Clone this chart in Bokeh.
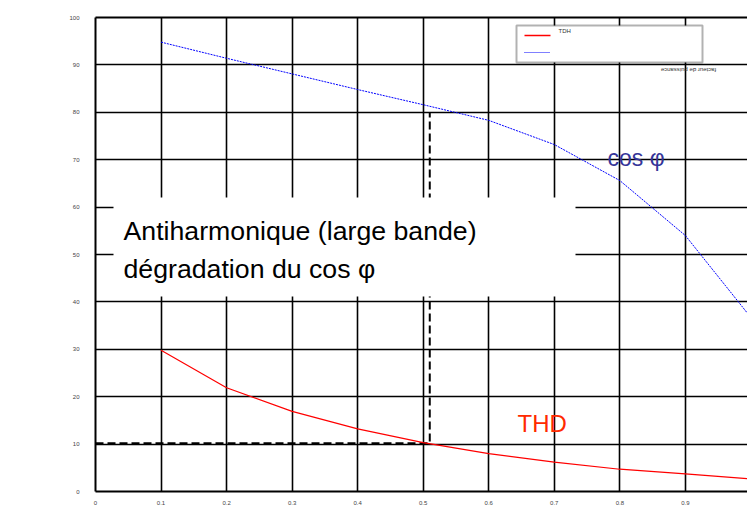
from bokeh.plotting import figure
from bokeh.models import (Range1d, FixedTicker, LinearAxis, BoxAnnotation, Label)
from bokeh.embed import file_html
from bokeh.resources import INLINE
import math

# ---- data ----
inductance = [0.1, 0.2, 0.3, 0.4, 0.5, 0.6, 0.7, 0.8, 0.9, 1.0]
cos_phi = [94.8, 91.4, 88.1, 84.8, 81.6, 78.3, 73.2, 65.6, 54.0, 36.7]
thd = [29.8, 21.9, 16.9, 13.2, 10.3, 8.0, 6.2, 4.7, 3.7, 2.65]
ref_x = [0.0, 0.51, 0.51]
ref_y = [10.2, 10.2, 80.0]
x_ticks = [0, 0.1, 0.2, 0.3, 0.4, 0.5, 0.6, 0.7, 0.8, 0.9]
x_tick_labels = ["0", "0.1", "0.2", "0.3", "0.4", "0.5", "0.6", "0.7", "0.8", "0.9"]
y_ticks = [0, 10, 20, 30, 40, 50, 60, 70, 80, 90, 100]
y_tick_labels = ["0", "10", "20", "30", "40", "50", "60", "70", "80", "90", "100"]

W, H = 747, 520
LEFT, TOP, BOTTOM = 95, 17, 29
X_END = 0.9948

p = figure(width=W, height=H, output_backend="svg", toolbar_location=None,
           x_range=Range1d(0, X_END), y_range=Range1d(0, 100),
           min_border_left=LEFT, min_border_right=0, min_border_top=TOP,
           min_border_bottom=BOTTOM, outline_line_color=None,
           background_fill_color="white", border_fill_color="white")

# pixel -> data helpers for annotation placement
fw = W - LEFT
fh = H - TOP - BOTTOM
def px(x):
    return (x - LEFT) / fw * X_END
def py(y):
    return (H - BOTTOM - y) / fh * 100.0

# axes
for ax in (p.xaxis[0], p.yaxis[0]):
    ax.axis_line_color = "black"
    ax.axis_line_width = 2
    ax.major_tick_line_color = None
    ax.minor_tick_line_color = None
    ax.major_label_text_font = "Liberation Sans"
    ax.major_label_text_font_size = "6px"
    ax.major_label_text_color = "#444444"

p.xaxis.ticker = FixedTicker(ticks=x_ticks)
p.xaxis.major_label_overrides = {t: l for t, l in zip(x_ticks, x_tick_labels)}
p.xaxis.major_label_text_align = "right"
p.xaxis.major_label_standoff = 3

p.yaxis.ticker = FixedTicker(ticks=y_ticks)
p.yaxis.major_label_overrides = {t: l for t, l in zip(y_ticks, y_tick_labels)}
p.yaxis.major_label_text_baseline = "bottom"
p.yaxis.major_label_standoff = 10

top_axis = LinearAxis(ticker=FixedTicker(ticks=[]), axis_line_color="black",
                      axis_line_width=2, major_tick_line_color=None,
                      minor_tick_line_color=None, major_label_text_font_size="0px")
p.add_layout(top_axis, "above")

# grid
p.xgrid.ticker = FixedTicker(ticks=x_ticks[1:])
p.ygrid.ticker = FixedTicker(ticks=y_ticks[1:-1])
for g in (p.xgrid[0], p.ygrid[0]):
    g.grid_line_color = "black"
    g.grid_line_width = 1.6
    g.grid_line_alpha = 1.0

# legend box (under glyphs, over grid)
leg_box = BoxAnnotation(left=px(516), right=px(702), top=py(25), bottom=py(62),
                        fill_color="white", fill_alpha=1.0, line_color="black",
                        line_width=2, level="underlay")
p.add_layout(leg_box)

# curves
p.line(ref_x, ref_y, line_color="black", line_width=2, line_dash="8 4")
p.line(inductance, thd, line_color="#ff0000", line_width=1.2)
p.line(inductance, cos_phi, line_color="#0000ff", line_width=1, line_dash="2 1")

# legend samples
p.segment(x0=[px(524)], y0=[py(35)], x1=[px(550)], y1=[py(35)], line_color="#ff0000", line_width=1.5)
p.segment(x0=[px(524)], y0=[py(52)], x1=[px(550)], y1=[py(52)], line_color="#0000ff", line_width=1, line_dash="1 1")
p.add_layout(Label(x=px(558), y=py(30), text="TDH", text_font="Liberation Sans",
                   text_font_size="6px", text_color="#333333",
                   text_baseline="middle", text_align="left"))
p.add_layout(Label(x=px(688), y=py(69), text="facteur de puissance", text_font="Liberation Sans",
                   text_font_size="6px", text_color="#333333", angle=math.pi,
                   text_baseline="middle", text_align="center"))

# white text box
txt_box = BoxAnnotation(left=px(113), right=px(575), top=py(197), bottom=py(296),
                        fill_color="white", fill_alpha=1.0, line_color=None)
p.add_layout(txt_box)
p.add_layout(Label(x=px(123), y=py(230), text="Antiharmonique (large bande)",
                   text_font="Liberation Sans", text_font_size="26.7px", text_color="black",
                   text_baseline="alphabetic", text_align="left"))
p.add_layout(Label(x=px(123), y=py(268), text="dégradation du cos φ",
                   text_font="Liberation Sans", text_font_size="26.7px", text_color="black",
                   text_baseline="alphabetic", text_align="left"))

p.add_layout(Label(x=px(607), y=py(157), text="cos φ",
                   text_font="Liberation Sans", text_font_size="23px", text_color="#353599",
                   text_baseline="alphabetic", text_align="left"))
p.add_layout(Label(x=px(517), y=py(423), text="THD",
                   text_font="Liberation Sans", text_font_size="24px", text_color="#ff2a00",
                   text_baseline="alphabetic", text_align="left"))

# axis titles
p.add_layout(Label(x=px(378), y=py(514), text="inductance Ls en mH",
                   text_font="Liberation Sans", text_font_size="6px", text_color="#333333",
                   text_baseline="middle", text_align="center"))
p.add_layout(Label(x=px(10), y=py(212), text="[%]",
                   text_font="Liberation Sans", text_font_size="10px", text_color="#333333",
                   text_baseline="middle", text_align="left"))

open("out.html", "w").write(file_html(p, INLINE))
